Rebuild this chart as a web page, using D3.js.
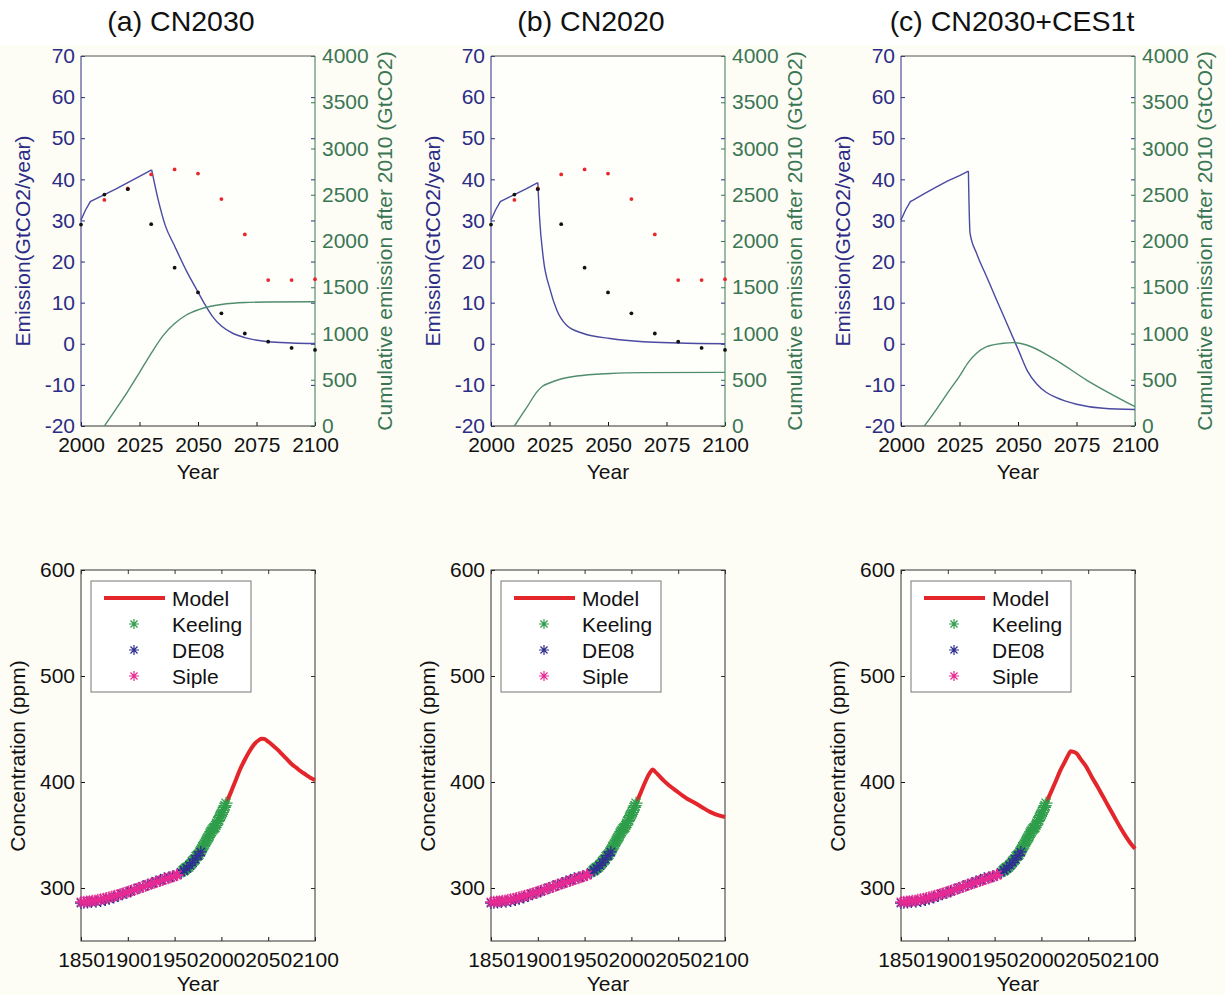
<!DOCTYPE html>
<html>
<head>
<meta charset="utf-8">
<script src="https://cdn.jsdelivr.net/npm/d3@7/dist/d3.min.js"></script>
<style>
  body { margin: 0; background: #fff; }
  text { font-family: "Liberation Sans", Arial, Helvetica, sans-serif; }
</style>
</head>
<body>
<svg id="fig" width="1225" height="995"></svg>
<script>
// ---- top row: emission (GtCO2/yr) and cumulative emission after 2010 (GtCO2)
const emisA = [[2000,30.1],[2002,32.6],[2004,34.6],[2005,34.9],[2010,36.3],[2015,37.7],[2020,39.2],[2025,40.7],[2030.2,42.3],
  [2033,35.0],[2036,28.8],[2040,23.8],[2045,17.8],[2050,12.6],[2053,9.5],[2056,6.8],[2060,4.3],[2065,2.5],
  [2070,1.5],[2080,0.5],[2090,0.2],[2100,0.05]];
const cumA = [[2010,0],[2015,185],[2020,375],[2025,578],[2030,786],[2035,975],[2040,1108],[2045,1200],[2050,1255],
  [2055,1292],[2060,1314],[2065,1327],[2070,1335],[2080,1341],[2100,1344]];

const emisB = [[2000,30.1],[2002,32.6],[2004,34.6],[2005,34.9],[2010,36.3],[2015,37.7],[2020,39.2],[2020.7,31.1],
  [2022.4,20.6],[2025.2,13.3],[2028.1,8.2],[2032.3,4.5],[2039.5,2.5],[2050.9,1.3],[2065.1,0.5],[2080,0.2],[2100,0.0]];
const cumB = [[2010,0],[2015,190],[2020,380],[2022,430],[2025,465],[2029.5,505],[2036.6,540],[2051,568],[2065,577],[2100,580]];

const emisC = [[2000,30.1],[2002,32.6],[2004,34.6],[2005,34.9],[2010,36.5],[2015,38.1],[2020,39.6],[2025,40.9],[2028.8,42.0],
  [2029.5,26.9],[2032.3,22.0],[2036.6,16.3],[2040.9,10.6],[2045.2,5.0],[2050,-1.3],[2054,-6.6],[2058,-9.8],
  [2062,-11.8],[2066,-13.0],[2070,-13.9],[2075,-14.7],[2086.5,-15.7],[2100,-16.0]];
const cumC = [[2010,0],[2015,175],[2020,360],[2025,540],[2029,696],[2032.3,786],[2036.6,858],[2043.7,894],[2048,901],
  [2053.7,876],[2065,732],[2079.3,497],[2100,209]];

const redDots = [[2010,35.0],[2020,37.8],[2030,41.2],[2040,42.4],[2050,41.4],[2060,35.2],[2070,26.6],[2080,15.5],[2090,15.5],[2100,15.7]];
const blackDots = [[2000,29.0],[2010,36.3],[2020,37.6],[2030,29.1],[2040,18.5],[2050,12.5],[2060,7.4],[2070,2.5],[2080,0.5],[2090,-1.0],[2100,-1.5]];

const topTitles = ["(a) CN2030", "(b) CN2020", "(c) CN2030+CES1t"];
const emisTicks = [-20,-10,0,10,20,30,40,50,60,70];
const cumTicks = [0,500,1000,1500,2000,2500,3000,3500,4000];
const topYearTicks = [2000,2025,2050,2075,2100];

// ---- bottom row: CO2 concentration (ppm)
const keeling = [[1959,316.0],[1960,316.9],[1961,317.6],[1962,318.5],[1963,319.0],[1964,319.6],[1965,320.0],[1966,321.4],
  [1967,322.2],[1968,323.1],[1969,324.6],[1970,325.7],[1971,326.3],[1972,327.5],[1973,329.7],[1974,330.2],[1975,331.1],
  [1976,332.0],[1977,333.8],[1978,335.4],[1979,336.8],[1980,338.8],[1981,340.1],[1982,341.5],[1983,343.2],[1984,344.9],
  [1985,346.4],[1986,347.6],[1987,349.3],[1988,351.7],[1989,353.2],[1990,354.5],[1991,355.7],[1992,356.5],[1993,357.2],
  [1994,359.0],[1995,361.0],[1996,362.7],[1997,363.9],[1998,366.8],[1999,368.5],[2000,369.7],[2001,371.3],[2002,373.5],
  [2003,376.0],[2004,377.7],[2005,380.0]];
const de08 = [[1850,285.8],[1853,286.1],[1857,286.3],[1861,286.7],[1866,287.1],[1871,287.7],[1876,288.6],[1880,289.8],
  [1885,291.0],[1890,292.8],[1894,294.0],[1899,295.6],[1903,296.8],[1907,298.3],[1912,300.0],[1916,301.4],[1921,303.0],
  [1926,304.6],[1930,306.2],[1935,307.6],[1939,309.2],[1944,310.2],[1948,311.0],[1953,312.6],[1957,314.8],[1960,316.6],
  [1963,318.6],[1966,321.2],[1969,324.0],[1972,327.2],[1975,330.6],[1978,334.0]];
const siple = [[1850,286.8],[1853,287.0],[1856,287.2],[1859,287.5],[1862,287.9],[1865,288.3],[1868,288.8],[1871,289.3],
  [1874,289.9],[1877,290.5],[1880,291.2],[1883,291.9],[1886,292.6],[1889,293.4],[1892,294.2],[1895,295.0],[1898,295.8],
  [1901,296.7],[1904,297.6],[1907,298.5],[1910,299.4],[1913,300.3],[1916,301.2],[1919,302.1],[1922,303.0],[1925,303.9],
  [1928,304.8],[1931,305.7],[1934,306.6],[1937,307.5],[1940,308.4],[1943,309.3],[1946,310.2],[1949,311.1],[1952,312.0],[1953,312.5]];

const modelA = [[2005,380],[2010,390],[2015,401],[2020,412],[2025,421],[2030,429],[2035,435.5],[2040,439.5],[2043,440.7],
  [2046,440.5],[2050,438],[2055,434.5],[2060,430.5],[2065,426],[2070,421.5],[2075,417],[2080,413.5],[2085,410],[2090,407],
  [2095,404],[2100,401.7]];
const modelB = [[2005,380],[2010,390],[2015,400.5],[2020,409],[2022.7,411.8],[2025,410],[2030,405.5],[2034,401.7],[2040,397],
  [2048,391.6],[2055,387],[2060,384],[2066,381.2],[2075,376.5],[2084,371.8],[2090,369.5],[2100,367]];
const modelC = [[2005,380],[2010,390],[2015,400],[2020,410.5],[2025,419],[2029,426],[2031.3,429],[2034,428.5],[2037.7,426.9],
  [2042,421.5],[2048,414.3],[2054,404.5],[2060,395.5],[2066,386],[2072,376.5],[2078,367],[2084,357.6],[2090,349],[2095,342.5],[2100,337]];

const concTicks = [300,400,500,600];
const botYearTicks = [1850,1900,1950,2000,2050,2100];
const legendNames = ["Model", "Keeling", "DE08", "Siple"];

// ---- colours
const axisBlue = "#2c2c86", lineBlue = "#4a4aa2";
const axisGreen = "#3b7654", lineGreen = "#4f8d6d";
const redDot = "#e8272c", modelRed = "#e3262b";
const obsColors = { Keeling: "#2f9e4b", DE08: "#2e3090", Siple: "#e62a93" };
const obsSize = { Keeling: 6.5, DE08: 6, Siple: 6 };

const plainNum = d => String(d);

const svg = d3.select("#fig");
svg.append("rect").attr("x", 0).attr("y", 45).attr("width", 1225).attr("height", 950).attr("fill", "#fdfdf6");

const panelX = [81, 491, 901];
const W = 234;

function styleAxis(sel, color, size) {
  sel.attr("font-size", size).attr("font-family", "Liberation Sans, Arial, sans-serif");
  sel.select(".domain").remove();
  sel.selectAll("line").attr("stroke", color);
  sel.selectAll("text").attr("fill", color);
}

function asterisk(r) {
  const d = r * 0.7071;
  return `M${-r},0L${r},0M0,${-r}L0,${r}M${-d},${-d}L${d},${d}M${-d},${d}L${d},${-d}`;
}

function drawTop(i, emis, cum, dots) {
  const g = svg.append("g").attr("transform", `translate(${panelX[i]},0)`);
  const x = d3.scaleLinear().domain([2000, 2100]).range([0, W]);
  const yL = d3.scaleLinear().domain([-20, 70]).range([426, 56]);
  const yR = d3.scaleLinear().domain([0, 4000]).range([426, 56]);

  g.append("rect").attr("x", 0).attr("y", 56).attr("width", W).attr("height", 370).attr("fill", "#fefefa");

  g.append("g").call(d3.axisLeft(yL).tickValues(emisTicks).tickSizeInner(-4).tickSizeOuter(0).tickPadding(6).tickFormat(plainNum))
    .call(s => styleAxis(s, axisBlue, 21));
  g.append("g").attr("transform", `translate(${W},0)`)
    .call(d3.axisLeft(yL).tickValues(emisTicks).tickSizeInner(4).tickSizeOuter(0).tickFormat(""))
    .call(s => styleAxis(s, axisBlue, 21));
  g.append("g").attr("transform", `translate(${W},0)`)
    .call(d3.axisRight(yR).tickValues(cumTicks).tickSizeInner(-4).tickSizeOuter(0).tickPadding(7).tickFormat(plainNum))
    .call(s => styleAxis(s, axisGreen, 21));
  g.append("g").attr("transform", "translate(0,426)")
    .call(d3.axisBottom(x).tickValues(topYearTicks).tickSizeInner(-4).tickSizeOuter(0).tickPadding(11).tickFormat(plainNum))
    .call(s => styleAxis(s, "#111", 21));

  // box
  g.append("line").attr("x1", 0).attr("x2", W).attr("y1", 56).attr("y2", 56).attr("stroke", "#555");
  g.append("line").attr("x1", 0).attr("x2", W).attr("y1", 426).attr("y2", 426).attr("stroke", "#333");
  g.append("line").attr("x1", 0).attr("x2", 0).attr("y1", 56).attr("y2", 426).attr("stroke", axisBlue);
  g.append("line").attr("x1", W).attr("x2", W).attr("y1", 56).attr("y2", 426).attr("stroke", axisGreen);

  // emission: straight rise up to the peak, smooth decline after it
  const peak = d3.maxIndex(emis, d => d[1]);
  g.append("path").datum(emis.slice(0, peak + 1)).attr("fill", "none").attr("stroke", lineBlue).attr("stroke-width", 1.4)
    .attr("d", d3.line().x(d => x(d[0])).y(d => yL(d[1])));
  g.append("path").datum(emis.slice(peak)).attr("fill", "none").attr("stroke", lineBlue).attr("stroke-width", 1.4)
    .attr("d", d3.line().curve(d3.curveMonotoneX).x(d => x(d[0])).y(d => yL(d[1])));
  g.append("path").datum(cum).attr("fill", "none").attr("stroke", lineGreen).attr("stroke-width", 1.4)
    .attr("d", d3.line().curve(d3.curveMonotoneX).x(d => x(d[0])).y(d => yR(d[1])));

  if (dots) {
    g.selectAll(".red").data(redDots).enter().append("circle").attr("class", "red")
      .attr("cx", d => x(d[0])).attr("cy", d => yL(d[1])).attr("r", 1.9).attr("fill", redDot);
    g.selectAll(".blk").data(blackDots).enter().append("circle").attr("class", "blk")
      .attr("cx", d => x(d[0])).attr("cy", d => yL(d[1])).attr("r", 1.9).attr("fill", "#111");
  }

  svg.append("text").attr("x", panelX[i] + W / 2 - [17, 17, 6][i]).attr("y", 31).attr("text-anchor", "middle")
    .attr("font-size", 28.5).attr("fill", "#111").text(topTitles[i]);
  g.append("text").attr("x", W / 2).attr("y", 479).attr("text-anchor", "middle").attr("font-size", 21)
    .attr("fill", "#111").text("Year");
  g.append("text").attr("transform", `translate(-51,241) rotate(-90)`).attr("text-anchor", "middle")
    .attr("font-size", 21).attr("fill", axisBlue).text("Emission(GtCO2/year)");
  g.append("text").attr("transform", `translate(${W + 77},241) rotate(-90)`).attr("text-anchor", "middle")
    .attr("font-size", 21).attr("fill", axisGreen).text("Cumulative emission after 2010 (GtCO2)");
}

function drawBottom(i, model) {
  const g = svg.append("g").attr("transform", `translate(${panelX[i]},0)`);
  const x = d3.scaleLinear().domain([1850, 2100]).range([0, W]);
  const y = d3.scaleLinear().domain([250, 600]).range([941, 570]);

  g.append("rect").attr("x", 0).attr("y", 570).attr("width", W).attr("height", 371).attr("fill", "#fefefa");

  g.append("g").call(d3.axisLeft(y).tickValues(concTicks).tickSizeInner(-4).tickSizeOuter(0).tickPadding(6).tickFormat(plainNum))
    .call(s => styleAxis(s, "#111", 21));
  g.append("g").attr("transform", `translate(${W},0)`)
    .call(d3.axisLeft(y).tickValues(concTicks).tickSizeInner(4).tickSizeOuter(0).tickFormat(""))
    .call(s => styleAxis(s, "#333", 21));
  g.append("g").attr("transform", "translate(0,941)")
    .call(d3.axisBottom(x).tickValues(botYearTicks).tickSizeInner(-4).tickSizeOuter(0).tickPadding(11).tickFormat(plainNum))
    .call(s => styleAxis(s, "#111", 21));
  g.append("g").attr("transform", "translate(0,570)")
    .call(d3.axisTop(x).tickValues(botYearTicks).tickSizeInner(-4).tickSizeOuter(0).tickFormat(""))
    .call(s => styleAxis(s, "#333", 21));
  g.append("rect").attr("x", 0).attr("y", 570).attr("width", W).attr("height", 371)
    .attr("fill", "none").attr("stroke", "#333");

  g.append("path").datum(model).attr("fill", "none").attr("stroke", modelRed).attr("stroke-width", 4)
    .attr("stroke-linejoin", "round")
    .attr("d", d3.line().curve(d3.curveMonotoneX).x(d => x(d[0])).y(d => y(d[1])));

  [["Keeling", keeling], ["DE08", de08], ["Siple", siple]].forEach(([name, data]) => {
    g.append("g").selectAll("path").data(data).enter().append("path")
      .attr("transform", d => `translate(${x(d[0])},${y(d[1])})`)
      .attr("d", asterisk(obsSize[name])).attr("stroke", obsColors[name]).attr("stroke-width", 1.3).attr("fill", "none");
  });

  // legend
  const lg = g.append("g").attr("transform", "translate(10,581)");
  lg.append("rect").attr("width", 160).attr("height", 111).attr("fill", "#fff").attr("stroke", "#777");
  legendNames.forEach((name, k) => {
    const ly = 17 + k * 26;
    if (name === "Model") {
      lg.append("line").attr("x1", 13).attr("x2", 74).attr("y1", ly).attr("y2", ly)
        .attr("stroke", modelRed).attr("stroke-width", 4);
    } else {
      lg.append("path").attr("transform", `translate(43,${ly})`).attr("d", asterisk(5))
        .attr("stroke", obsColors[name]).attr("stroke-width", 1.2).attr("fill", "none");
    }
    lg.append("text").attr("x", 81).attr("y", ly + 7.5).attr("font-size", 21).attr("fill", "#111").text(name);
  });

  g.append("text").attr("x", W / 2).attr("y", 991).attr("text-anchor", "middle").attr("font-size", 21)
    .attr("fill", "#111").text("Year");
  g.append("text").attr("transform", `translate(-56,756) rotate(-90)`).attr("text-anchor", "middle")
    .attr("font-size", 21).attr("fill", "#111").text("Concentration (ppm)");
}

drawTop(0, emisA, cumA, true);
drawTop(1, emisB, cumB, true);
drawTop(2, emisC, cumC, false);
drawBottom(0, modelA);
drawBottom(1, modelB);
drawBottom(2, modelC);
</script>
</body>
</html>
